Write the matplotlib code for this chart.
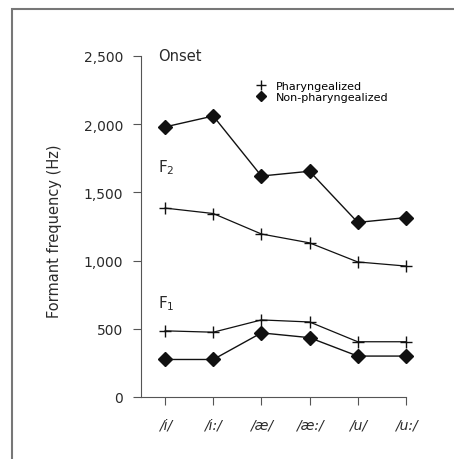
import matplotlib.pyplot as plt
from matplotlib.lines import Line2D
from matplotlib.patches import Rectangle

# --- data ---
vowels = ['/i/', '/i:/', '/æ/', '/æ:/', '/u/', '/u:/']
f2_phar = [1385, 1345, 1195, 1130, 990, 960]
f2_nonphar = [1980, 2060, 1620, 1655, 1280, 1315]
f1_phar = [485, 475, 565, 550, 405, 405]
f1_nonphar = [275, 275, 470, 435, 300, 300]
yticks = [0, 500, 1000, 1500, 2000, 2500]

plt.rcParams['font.family'] = ['DejaVu Sans']
ink = '#2a2a2a'

fig = plt.figure(figsize=(4.54, 4.6), dpi=100)
ax = fig.add_axes([0.3106, 0.1348, 0.5834, 0.7413])

x = list(range(len(vowels)))
for vals in (f2_phar, f1_phar):
    ax.plot(x, vals, color='#111111', lw=0.9, marker='+', ms=9, mew=1.0, clip_on=False)
for vals in (f2_nonphar, f1_nonphar):
    ax.plot(x, vals, color='#111111', lw=1.0, marker='D', ms=7, clip_on=False)

ax.set_xlim(-0.5, 5.0)
ax.set_ylim(0, 2500)
ax.set_yticks(yticks)
ax.set_yticklabels([f'{v:,}' for v in yticks], fontsize=10, color=ink)
ax.set_xticks(x)
ax.set_xticklabels(vowels, fontsize=10, style='italic', color=ink)
ax.tick_params(axis='both', direction='out', length=6, width=0.8, color='#555555')
ax.tick_params(axis='y', pad=7)
ax.tick_params(axis='x', pad=9)
for s in ('top', 'right'):
    ax.spines[s].set_visible(False)
for s in ('left', 'bottom'):
    ax.spines[s].set_color('#555555')
    ax.spines[s].set_linewidth(0.8)
ax.set_ylabel('Formant frequency (Hz)', fontsize=10.5, color=ink)
ax.yaxis.set_label_coords(-0.30, 0.49)

ax.text(-0.15, 2500, 'Onset', fontsize=10.5, color=ink, va='center', ha='left')
ax.text(-0.15, 1690, 'F$_2$', fontsize=11, color=ink, va='center', ha='left')
ax.text(-0.15, 690, 'F$_1$', fontsize=11, color=ink, va='center', ha='left')

handles = [Line2D([], [], color='#111111', ls='none', marker='+', ms=7, mew=1.0),
           Line2D([], [], color='#111111', ls='none', marker='D', ms=5.5)]
ax.legend(handles, ['Pharyngealized', 'Non-pharyngealized'], loc='upper left',
          bbox_to_anchor=(0.42, 0.94), frameon=False, fontsize=8,
          handlelength=0.8, handletextpad=0.9, labelspacing=0.1, borderaxespad=0)

# scanned frame around the figure
fig.patches.append(Rectangle((12 / 454, -0.05), 1.2, 1 - 10 / 460 + 0.05,
                             transform=fig.transFigure, fill=False,
                             edgecolor='#777777', lw=1.5))

fig.savefig('out.png', dpi=100)
